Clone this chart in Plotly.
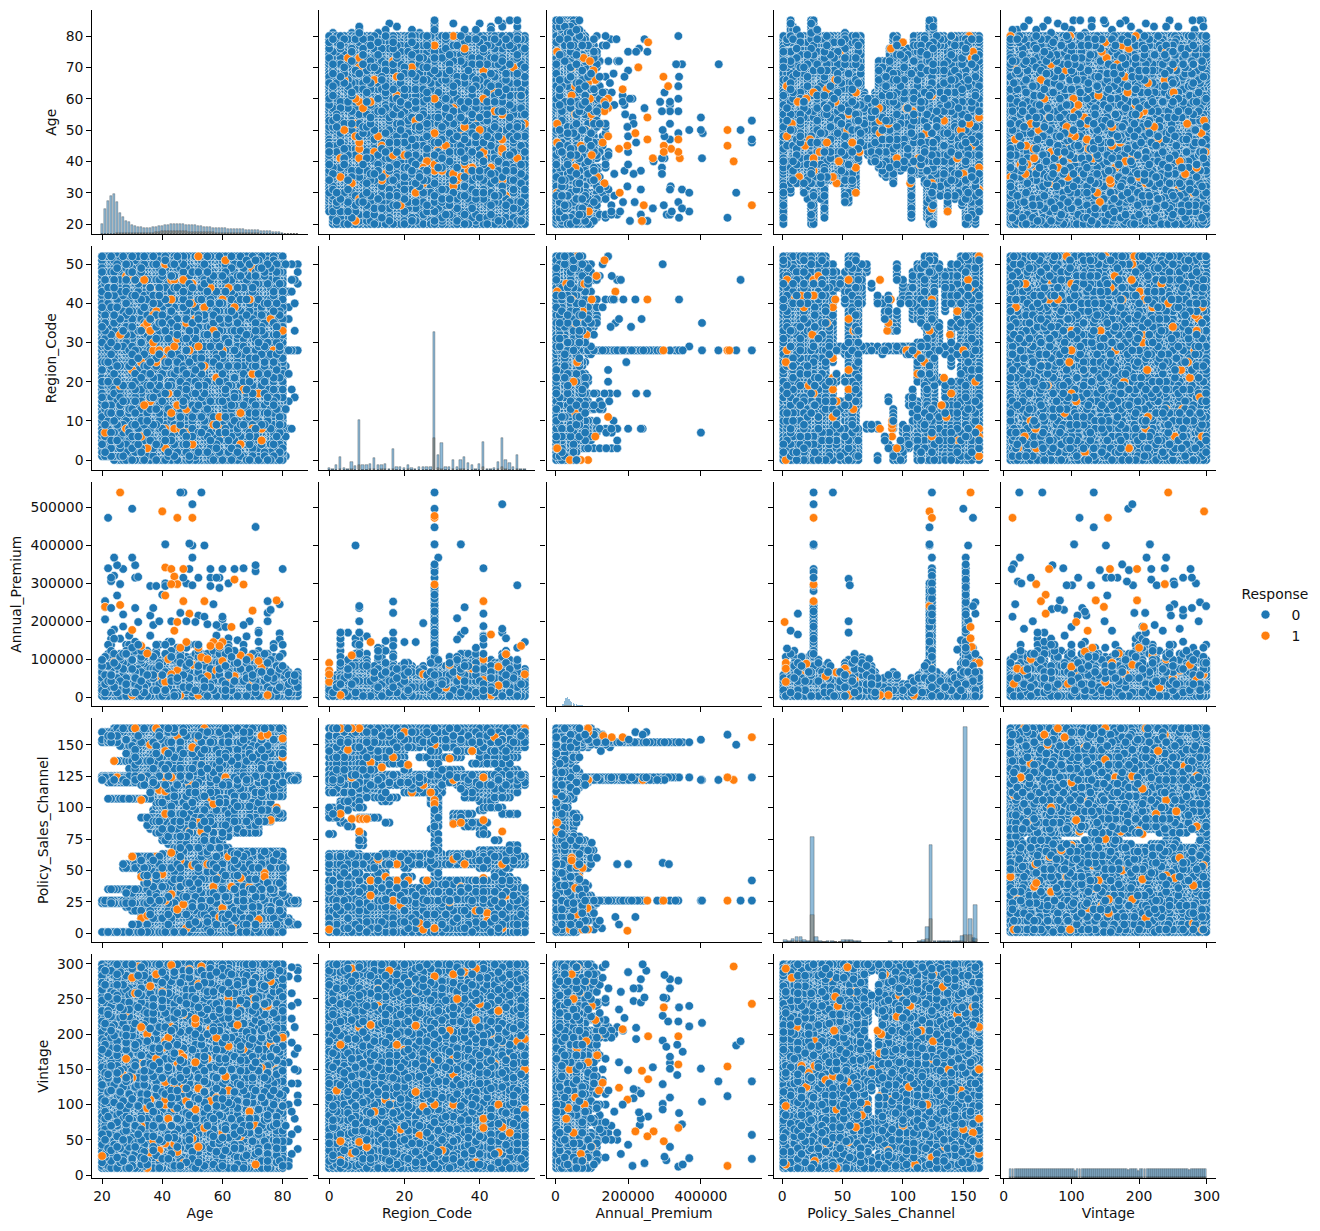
import plotly.graph_objects as go

VARS = ["Age", "Region_Code", "Annual_Premium", "Policy_Sales_Channel", "Vintage"]
RANGES = [[16.75, 88.25], [-2.6, 54.6], [-24247, 567042], [-7.1, 171.1], [-4.45, 313.45]]
X_TICKS = [[20, 40, 60, 80], [0, 20, 40], [0, 200000, 400000], [0, 50, 100, 150], [0, 100, 200, 300]]
Y_TICKS = [[20, 30, 40, 50, 60, 70, 80], [0, 10, 20, 30, 40, 50],
           [0, 100000, 200000, 300000, 400000, 500000], [0, 25, 50, 75, 100, 125, 150],
           [0, 50, 100, 150, 200, 250, 300]]
BLUE = "#1f77b4"
ORANGE = "#ff7f0e"

AGE_LEVELS = [20,21,22,23,24,25,26,27,28,29,30,31,32,33,34,35,36,37,38,39,40,41,42,43,44,45,46,47,48,49,50,
              51,52,53,54,55,56,57,58,59,60,61,62,63,64,65,66,67,68,69,70,71,72,73,74,75,76,77,78,79,80]
REGION_LEVELS = [0,1,2,3,4,5,6,7,8,9,10,11,12,13,14,15,16,17,18,19,20,21,22,23,24,25,26,27,28,29,30,31,32,33,
                 34,35,36,37,38,39,40,41,42,43,44,45,46,47,48,49,50,51,52]
VINTAGE_A = [10,15,20,25,30,35,40,45,50,55,60,65,70,75,80,85,90,95,100,105,110,115,120,125,130,135,140,145,150,
             155,160,165,170,175,180,185,190,195,200,205,210,215,220,225,230,235,240,245,250,255,260,265,270,
             275,280,285,290,295,299]
VINTAGE_B = [10,13,18,23,28,33,38,43,48,53,58,63,68,73,78,83,88,93,98,103,108,113,118,123,128,133,138,143,148,
             153,158,163,168,173,178,183,188,193,198,203,208,213,218,223,228,233,238,243,248,253,258,263,268,
             273,278,283,288,293,299]
PREMIUM_LEVELS = [2630,12000,18000,26000,34000,42000,50000,58000,66000,74000,82000,90000,98000,106000,114000,
                  122000,130000,138000,146000,154000,162000,170000,178000,186000,194000,202000,210000,218000,
                  226000,234000,242000,250000,260000,270000,280000,290000,300000,310000,320000,330000,340000]

# upper edge (thousands) of the premium cloud for each level
PREMIUM_TOP_BY_AGE = [125,145,170,205,180,195,175,190,150,165,140,155,150,135,160,145,175,150,190,155,170,145,165,
                      150,175,160,150,170,145,165,155,160,140,150,170,145,150,140,165,140,155,135,145,150,130,160,
                      135,150,130,145,130,125,150,130,125,140,125,130,130,120,150]
PREMIUM_TOP_BY_REGION = [65,55,60,175,60,100,110,130,170,100,125,90,110,130,110,150,60,135,75,85,125,90,95,60,75,85,
                         80,110,290,105,105,90,115,95,125,120,130,120,125,130,110,170,60,100,100,125,130,130,100,
                         125,110,50,80]
PREMIUM_TOP_BY_VINTAGE = [135,175,125,150,140,130,135,120,170,130,150,135,160,150,130,125,165,130,150,125,120,155,150,
                          130,165,170,125,140,135,125,150,170,130,130,155,125,175,165,200,190,170,140,150,130,185,130,
                          160,170,145,170,130,160,135,125,160,150,130,170,145]
CHANNEL_PREMIUM_TOP = [(1,60),(3,120),(7,125),(10,130),(13,110),(16,110),(19,105),(22,110),(24,115),(26,250),(30,100),
                       (33,90),(35,85),(38,90),(40,85),(43,75),(45,65),(48,70),(52,105),(55,110),(58,115),(60,115),
                       (63,105),(66,100),(70,95),(74,90),(77,70),(79,50),(84,50),(88,60),(92,70),(95,65),(100,40),
                       (104,40),(107,50),(109,50),(113,60),(116,70),(118,85),(120,90),(122,300),(124,340),(128,70),
                       (131,60),(135,50),(138,60),(140,70),(143,60),(145,60),(148,100),(150,150),(152,340),(154,220),
                       (156,170),(158,130),(160,135),(163,100)]

# channel, lowest age, highest age of the cloud along that channel
CHANNEL_AGE_BANDS = [(163,24,80),(160,20,80),(157,22,80),(154,20,80),(152,20,80),(149,26,80),(146,30,80),(143,28,80),
                     (140,30,80),(137,24,75),(134,30,80),(131,29,80),(128,33,80),(125,20,85),(124,20,85),(122,20,85),
                     (120,22,80),(118,33,80),(115,36,80),(112,36,80),(109,36,80),(107,22,70),(104,38,76),(101,38,76),
                     (98,37,78),(95,37,80),(92,33,80),(89,37,76),(86,35,72),(83,36,72),(80,38,72),(77,40,62),(74,40,60),
                     (71,42,60),(68,44,62),(65,46,80),(63,40,80),(61,30,80),(58,32,80),(55,27,80),(52,27,81),(49,33,80),
                     (46,33,80),(43,34,80),(40,34,80),(37,34,80),(35,22,80),(32,28,80),(29,29,82),(26,20,85),(24,20,85),
                     (21,28,80),(18,30,80),(15,33,80),(12,33,82),(9,34,83),(7,30,85),(4,40,80),(1,20,80)]
# channel and the stretches of region code it covers
CHANNEL_REGION_BANDS = [(163,[(0,52)]),(160,[(1,52)]),(157,[(0,52)]),(154,[(0,52)]),(152,[(0,52)]),
                        (148,[(0,24),(26,52)]),(145,[(0,20),(27,29),(34,50)]),(140,[(0,15),(18,20),(24,28),(30,35),(40,50)]),
                        (135,[(0,14),(16,20),(27,29),(38,48)]),(130,[(0,12),(20,21),(28,35),(45,50)]),
                        (126,[(0,52)]),(124,[(0,52)]),(122,[(0,52)]),(120,[(0,52)]),(118,[(3,30),(34,52)]),
                        (115,[(0,5),(8,12),(20,30),(35,50)]),(112,[(0,8),(9,15),(20,30),(36,50)]),
                        (108,[(5,10),(12,18),(27,29),(36,48)]),(105,[(3,8),(14,16),(27,29),(40,44)]),(103,[(3,8),(27,29)]),
                        (100,[(0,3),(7,9),(28,29),(41,46)]),(98,[(0,5),(28,29),(40,41)]),(95,[(0,3),(28,29),(33,38),(46,50)]),
                        (92,[(0,3),(8,13),(28,29),(33,35)]),(88,[(3,4),(15,16),(28,29),(33,42)]),(85,[(5,6),(28,29),(36,38)]),
                        (83,[(27,28),(40,41)]),(79,[(0,1),(8,9),(28,29),(40,42)]),(74,[(8,9),(28,29),(44,45)]),
                        (70,[(8,9),(28,29),(48,50)]),(66,[(28,29),(40,50)]),(63,[(0,8),(14,30),(32,50)]),(61,[(0,52)]),
                        (58,[(0,52)]),(55,[(0,52)]),(52,[(0,8),(10,15),(20,21),(27,29),(40,48)]),
                        (48,[(0,4),(7,8),(13,15),(28,29),(44,46)]),(45,[(3,12),(20,22),(28,29),(44,48)]),
                        (42,[(0,1),(8,20),(25,50)]),(39,[(0,8),(12,20),(27,36),(43,50)]),(36,[(0,30),(33,52)]),
                        (33,[(0,52)]),(30,[(0,52)]),(27,[(0,52)]),(26,[(0,52)]),
                        (24,[(0,52)]),(21,[(0,52)]),(18,[(0,52)]),(15,[(0,52)]),(12,[(0,52)]),(9,[(0,52)]),(7,[(0,52)]),
                        (4,[(1,52)]),(1,[(0,52)])]
# channel and the stretches of vintage it covers
CHANNEL_VINTAGE_BANDS = [(c, [(10, 299)]) for c in
                         [1,3,7,10,13,16,19,22,24,26,30,33,36,39,42,45,48,51,53,56,59,62,65,
                          85,88,91,94,97,100,103,106,109,112,116,119,122,124,128,131,134,137,140,143,146,149,152,154,156,158,160,163]] + \
                        [(68,[(10,85),(100,299)]),(71,[(10,40),(55,110),(130,190),(215,260),(285,299)]),
                         (74,[(10,25),(40,80),(120,170),(240,255),(290,299)]),(77,[(10,20),(50,60),(140,150),(290,299)]),
                         (80,[(10,30),(40,110),(130,200),(230,270),(290,299)]),(83,[(10,299)])]

# sparse points outside the solid clouds
AGE_REGION_EXTRA = [(81,1),(81,6),(81,8),(82,8),(83,8),(81,13),(82,15),(81,13),(84,16),(83,18),(81,28),(82,28),(83,28),
                    (84,28),(85,28),(84,33),(81,36),(82,36),(82,39),(84,40),(83,43),(82,43),(83,46),(84,46),(85,45),
                    (85,48),(85,50),(83,50),(81,50),(82,22),(81,24)]
AGE_VINTAGE_EXTRA = [(85,294),(85,290),(85,279),(83,295),(82,282),(83,258),(85,245),(83,240),(83,222),(84,210),(85,180),
                     (84,172),(83,188),(85,148),(84,150),(83,130),(85,130),(85,113),(85,103),(83,90),(84,80),(85,65),
                     (83,58),(82,48),(85,37),(83,30),(82,20),(82,13),(81,200),(81,120),(82,160),(82,100),(81,70)]
AGE_PREMIUM_BLUE = [(22,473000),(30,497000),(46,540000),(47,540000),(53,540000),(50,509000),(71,449000),(41,403000),
                    (49,405000),(50,400000),(54,400000),(24,368000),(30,368000),(50,368000),(25,348000),(31,348000),
                    (22,340000),(27,338000),(49,338000),(56,338000),(60,338000),(64,338000),(67,340000),(71,348000),
                    (71,332000),(80,338000),(23,315000),(24,320000),(23,306000),(31,315000),(32,317000),(26,298000),
                    (36,293000),(38,293000),(41,300000),(41,293000),(47,315000),(48,300000),(50,295000),(52,315000),
                    (56,315000),(56,293000),(58,315000),(59,315000),(59,288000),(62,300000),(25,268000),(40,270000),
                    (21,253000),(75,253000),(79,245000),(76,230000),(31,235000),(37,235000),(57,245000),(27,218000),
                    (36,215000),(52,215000),(54,212000),(60,212000),(46,222000),(75,222000),(23,235000),(21,238000),
                    (21,205000),(60,205000),(43,200000),(32,198000),(58,190000),(67,190000),(69,200000),(59,185000),
                    (61,185000),(72,175000),(79,168000),(79,152000),(68,160000),(65,150000),(62,155000),(51,198000),
                    (55,192000),(48,200000),(37,190000),(39,200000),(75,200000),(77,140000),(72,170000)]
AGE_PREMIUM_ORANGE = [(26,540000),(40,490000),(45,473000),(50,473000),(41,342000),(43,338000),(47,338000),(44,318000),
                      (45,298000),(43,298000),(64,310000),(67,297000),(41,268000),(47,253000),(54,253000),(78,255000),
                      (26,243000),(21,238000),(70,228000),(49,220000),(45,198000),(63,185000),(30,177000),(44,175000),
                      (48,145000),(57,145000),(60,145000),(56,135000),(59,135000),(46,130000),(42,100000),(24,92000),
                      (63,97000),(73,78000),(36,55000),(38,55000),(61,45000),(41,40000),(75,5000),(66,110000),(53,105000),
                      (33,135000),(35,115000),(52,130000),(55,100000),(60,95000),(65,90000),(69,105000),(72,95000),
                      (45,70000),(50,85000),(58,70000),(43,60000),(55,55000),(64,55000),(70,45000),(30,5000),(46,5000),
                      (52,5000)]
AGE_REGION_ORANGE = [(33,33),(41,41),(43,46),(52,52),(41,50),(38,43),(40,26),(26,32),(32,33),(34,34),(35,35),(33,6),(41,3),
                     (49,28),(37,28),(39,28),(42,28),(60,28),(77,28),(80,33),(61,18),(42,17),(53,23),(36,15),(45,14),
                     (59,8),(44,8),(41,8),(46,8),(60,7),(70,8),(70,22),(73,5),(21,7),(60,41),(39,41),(38,41),(43,41),
                     (69,41),(55,46),(44,46),(47,46),(50,40),(54,39),(38,38),(51,36),(40,36),(28,47),(31,46),(50,45),
                     (29,47),(34,46),(36,44),(37,37),(39,36),(36,33),(37,30),(44,29),(52,29),(33,25),(54,24),(36,22),
                     (42,20),(58,21),(67,18),(72,17),(34,14),(48,13),(59,11),(57,9),(52,7),(48,7),(28,8),(35,3),(50,4),
                     (66,4),(73,8),(76,36),(64,39),(62,44),(70,49),(61,51),(56,44),(45,31),(57,33),(48,35),(43,12),(66,12),
                     (26,19),(30,23),(38,25)]
AGE_VINTAGE_ORANGE = [(28,165),(33,158),(38,165),(46,172),(47,167),(46,160),(30,280),(31,258),(36,268),(40,260),(52,271),
                      (71,280),(74,240),(75,240),(67,179),(62,183),(58,195),(56,207),(65,213),(62,251),(61,140),(77,175),
                      (73,152),(41,132),(52,123),(54,119),(36,107),(41,100),(41,107),(48,105),(49,98),(51,93),(56,105),
                      (60,103),(44,95),(42,80),(43,70),(54,67),(52,40),(37,49),(44,44),(39,35),(36,32),(39,25),(47,17),
                      (35,10),(71,15),(80,10),(27,142),(28,232),(40,180),(41,190),(51,215),(34,157),(45,160),
                      (32,296),(38,285),(43,298),(49,292),(53,296),(33,210),(35,200),(42,195),(43,210),(47,228),(51,222),
                      (55,200),(66,238),(70,250),(76,275),(80,195),(76,185),(78,150),(75,145),(62,120),(58,110),(69,90),
                      (71,70),(66,55),(60,60),(50,52),(45,33),(41,45),(33,70),(38,80),(44,125),(47,123),(51,160),(55,165),
                      (71,168),(30,138),(35,95),(20,27),(80,98)]
AGE_CHANNEL_ORANGE = [(38,163),(31,163),(54,163),(73,157),(75,158),(80,155),(80,140),(24,137),(53,134),(25,124),(41,124),
                      (46,124),(49,119),(39,114),(41,113),(33,106),(54,109),(56,108),(78,100),(52,88),(49,81),(53,81),
                      (57,80),(76,90),(30,61),(38,61),(55,55),(50,54),(33,45),(35,42),(40,47),(57,37),(69,37),(74,48),
                      (74,45),(66,44),(63,37),(59,44),(46,37),(37,26),(40,26),(41,26),(62,26),(33,12),(45,19),(59,13),
                      (48,4),(64,4),(35,14),(36,150),(45,157),(52,155),(41,145),(50,148),(33,124),(43,124),(61,124),
                      (41,95),(57,103),(43,64),(46,58),(62,61),(43,31),(47,23),(60,20),(52,8),(72,11)]
REGION_PREMIUM_BLUE = [(28,540000),(28,497000),(46,509000),(7,400000),(28,448000),(28,403000),(35,403000),(29,368000),
                       (41,340000),(28,350000),(28,340000),(28,330000),(28,315000),(50,295000),(8,240000),(8,235000),
                       (8,200000),(17,222000),(17,252000),(25,195000),(41,220000),(41,187000),(36,237000),(34,208000),
                       (46,180000),(46,170000),(36,175000),(35,165000),(34,152000),(41,160000),(47,155000),(52,145000),
                       (20,145000),(23,145000),(17,170000),(17,150000),(17,135000),(14,128000),(15,148000),(10,160000),
                       (3,170000),(3,155000),(3,140000),(5,170000),(7,155000),(8,170000),(8,150000),(7,140000),(50,130000)]
REGION_PREMIUM_ORANGE = [(28,473000),(28,478000),(28,297000),(41,253000),(0,90000),(0,40000),(11,145000),(6,110000),
                         (3,5000),(43,165000),(47,113000),(51,135000),(32,85000),(41,100000),(45,30000),(41,45000),
                         (36,60000),(43,5000),(25,60000),(52,60000),(38,75000),(0,70000),(0,60000),(45,80000),(35,55000),
                         (31,25000),(12,55000),(20,50000)]
REGION_CHANNEL_ORANGE = [(3,95),(8,91),(9,91),(10,91),(6,91),(8,81),(11,136),(14,132),(17,140),(21,134),(32,139),(22,112),
                         (27,112),(28,106),(28,103),(41,90),(46,81),(33,87),(35,88),(13,59),(15,55),(18,55),(23,55),(36,55),
                         (46,55),(33,59),(18,42),(11,42),(15,45),(21,42),(26,42),(35,37),(39,42),(41,44),(17,26),(42,26),
                         (46,26),(42,16),(42,10),(24,8),(25,3),(28,4),(46,4),(0,3),(8,163),(1,163),(52,163),(41,124),(6,124),
                         (38,145),(5,146),(44,156),(46,154),(3,163),(6,163),(11,30),(19,22),(32,25),(39,18),(47,30),(20,160),
                         (28,150),(33,122),(25,118),(37,63)]
REGION_VINTAGE_ORANGE = [(6,293),(3,185),(11,213),(28,165),(33,165),(40,243),(41,208),(43,201),(46,189),(47,164),(15,107),
                         (17,100),(52,93),(41,80),(41,67),(46,68),(8,47),(3,48),(6,31),(3,21),(45,32),(39,293),(33,143),
                         (23,118),(28,100),(32,205),(36,288),(37,283),(6,253),(52,193),(45,233),(23,212),(30,205),
                         (13,264),(16,290),(21,275),(23,262),(25,272),(28,282),(33,285),(34,250),(39,220),(41,175),(44,158),
                         (50,190),(52,150),(20,178),(18,185),(13,240),(8,210),(2,120),(12,90),(19,65),(24,56),(30,35),(39,18),
                         (48,60),(45,100),(25,97),(33,100),(10,40)]
CHANNEL_PREMIUM_BLUE = [(26,540000),(26,509000),(26,403000),(26,400000),(26,338000),(26,330000),(26,315000),(26,293000),
                        (26,280000),(42,540000),(124,540000),(122,448000),(122,403000),(122,400000),(124,368000),
                        (152,368000),(152,350000),(154,400000),(150,497000),(158,473000),(55,312000),(56,295000),(55,200000),
                        (55,170000),(13,220000),(7,175000),(13,165000),(4,128000),(160,250000),(158,240000),(160,220000),
                        (148,150000),(145,125000),(66,105000),(72,100000)]
CHANNEL_PREMIUM_ORANGE = [(55,5000),(81,5000),(88,5000),(109,5000),(2,198000),(20,88000),(45,65000),(60,45000),(3,40000),
                          (122,490000),(124,473000),(156,540000),(26,473000),(26,297000),(26,253000),(160,90000),
                          (156,155000),(157,132000),(156,185000),(163,90000),(122,240000),(122,90000),(3,90000),(3,75000),
                          (52,75000),(54,60000),(58,45000),(36,55000),(15,60000)]
VINTAGE_PREMIUM_BLUE = [(23,540000),(57,540000),(133,540000),(184,497000),(190,509000),(112,473000),(133,448000),
                        (104,403000),(151,400000),(216,403000),(24,368000),(15,350000),(12,338000),(72,348000),(88,340000),
                        (211,368000),(240,368000),(40,315000),(21,305000),(26,300000),(110,315000),(93,295000),(101,295000),
                        (129,295000),(142,335000),(151,315000),(159,315000),(168,315000),(175,350000),(185,335000),
                        (182,305000),(191,295000),(218,338000),(238,340000),(218,310000),(226,295000),(251,305000),
                        (252,297000),(265,315000),(276,338000),(278,315000),(284,300000),(153,268000),(83,255000),
                        (80,235000),(71,232000),(89,230000),(116,235000),(120,225000),(109,215000),(122,215000),
                        (149,200000),(17,245000),(13,212000),(43,200000),(193,222000),(209,222000),(223,190000),
                        (252,245000),(245,235000),(247,215000),(265,230000),(265,215000),(278,235000),(290,250000),
                        (299,240000),(288,200000),(30,180000),(60,170000),(100,185000),(160,175000),(235,175000),(260,180000)]
VINTAGE_PREMIUM_ORANGE = [(243,540000),(296,490000),(13,473000),(154,473000),(157,338000),(67,338000),(197,338000),
                          (238,298000),(48,298000),(62,270000),(55,253000),(136,255000),(148,238000),(197,255000),
                          (62,220000),(107,198000),(207,185000),(131,130000),(124,175000),(20,75000),(40,100000),
                          (60,50000),(100,80000),(150,40000),(180,60000),(220,110000),(260,70000),(285,45000),(170,115000),
                          (120,120000),(200,130000),(240,100000),(95,35000),(230,25000),(15,35000),(30,70000),(80,30000),
                          (110,55000),(160,90000),(190,85000),(250,50000),(275,85000),(295,60000)]
CHANNEL_VINTAGE_ORANGE = [(3,293),(8,280),(54,295),(44,253),(46,240),(133,267),(106,240),(145,228),(158,238),(27,190),
                          (27,155),(36,135),(42,140),(54,132),(81,173),(90,107),(81,112),(124,165),(45,93),(66,85),(61,68),
                          (3,98),(3,15),(27,20),(37,45),(40,48),(55,47),(88,35),(45,10),(110,15),(82,200),(79,205),(43,205),
                          (124,25),(150,65),(163,150),(163,80),(16,155),(22,145),(38,280),(60,260),(95,225),(115,205),(125,190),
                          (138,150),(148,120),(156,90),(158,60),(135,40),(105,125),(100,70),(75,150),(33,70),(12,210),(20,125),
                          (125,285),(163,30),(163,210),(50,175),(70,100),(120,100),(97,255),(85,285)]

# histogram bar heights on the diagonal, in thirds of a pixel
AGE_HIST_BINS = AGE_LEVELS + [81, 82, 83, 84, 85]
AGE_HIST_0 = [31,76,98,113,121,95,63,52,40,35,28,24,20,20,19,19,19,20,21,24,25,28,28,29,29,29,29,29,27,27,26,26,25,23,21,21,
              20,19,18,18,17,17,16,15,15,15,14,14,13,13,12,12,11,10,10,9,8,7,6,5,4,1,1,1,1,1]
AGE_HIST_1 = [1,1,1,1,1,2,2,2,2,2,2,2,3,3,3,3,3,4,5,6,8,8,9,9,9,9,9,8,8,7,7,7,6,6,5,5,5,5,4,4,4,4,3,3,3,3,3,2,2,2,2,2,2,1,1,1,
              1,1,1,1,1,0,0,0,0,0]
REGION_HIST_0 = [6,4,15,40,6,4,25,12,150,15,14,18,36,14,16,18,4,62,8,8,6,14,6,4,9,10,9,10,414,45,80,8,9,30,9,30,40,22,14,4,18,
                 85,4,4,6,24,95,30,20,8,45,3,3]
REGION_HIST_1 = [1,1,1,3,1,1,2,1,15,1,1,2,3,1,2,2,1,3,1,1,1,2,1,1,1,1,1,1,97,5,4,1,1,3,1,2,3,1,1,1,1,8,1,1,1,2,10,2,1,1,2,1,1]
PREMIUM_HIST_BINS = [2630,20000,24000,28000,32000,36000,40000,44000,48000,52000,56000,60000,64000,68000,72000,76000,80000]
PREMIUM_HIST_0 = [270,6,16,24,27,22,16,12,9,7,5,4,3,2,2,1,1]
PREMIUM_HIST_1 = [30,1,2,3,4,4,3,2,2,1,1,1,1,0,0,0,0]
PREMIUM_HIST_WIDTHS = [700,3600,3600,3600,3600,3600,3600,3600,3600,3600,3600,3600,3600,3600,3600,3600,3600]
CHANNEL_HIST_BINS = [2.6,5.9,9.1,12.3,15.6,18.8,22.0,25.3,28.5,31.8,35,38,41.5,44.7,48,51,54.4,57.6,60.9,64,90,114,117,120.2,
                     123.4,126.7,130,133,136,139,143,146,149.4,152.0,156.0,159,160.2]
CHANNEL_HIST_0 = [5,4,10,14,14,6,3,314,14,3,1,3,2,1,1,5,7,6,3,2,3,4,5,44,292,3,3,3,2,2,3,3,18,644,70,12,112]
CHANNEL_HIST_1 = [1,1,2,3,3,1,1,80,2,1,0,1,1,0,0,1,2,2,1,0,0,1,1,8,70,1,1,1,0,0,1,1,4,22,20,3,8]
VINTAGE_HIST_BINS = [11,14,17,20,23,26,29,32,35,38,41,44,47,50,53,56,59,62,65,68,71,74,77,80,83,86,89,92,95,98,101,104,107,
                     110,113,116,119,122,125,128,131,134,137,140,143,146,149,152,155,158,161,164,167,170,173,176,179,182,
                     185,188,191,194,197,200,203,206,209,212,215,218,221,224,227,230,233,236,239,242,245,248,251,254,257,
                     260,263,266,269,272,275,278,281,284,287,290,293,296,298]
VINTAGE_HIST_0 = [26,26,26,26,26,26,26,26,26,26,26,26,26,26,26,26,26,26,26,26,26,26,26,26,26,26,26,26,26,26,26,26,21,26,26,
                  26,26,26,26,26,26,26,26,26,26,26,26,26,26,26,26,26,26,26,26,26,26,26,23,26,26,26,26,21,26,26,26,26,26,26,
                  26,26,26,26,26,26,26,26,26,26,26,26,26,26,26,26,26,26,23,26,26,26,26,26,26,26,26]
VINTAGE_HIST_1 = [3,3,3,3,3,3,3,3,3,3,3,3,3,3,3,3,3,3,3,3,3,3,3,3,3,3,3,3,3,3,3,3,3,3,3,3,3,3,3,3,3,3,3,3,3,3,3,3,3,3,3,3,3,3,
                  3,3,3,3,3,3,3,3,3,3,3,3,3,3,3,3,3,3,3,3,3,3,3,3,3,3,3,3,3,3,3,3,3,3,3,3,3,3,3,3,3,3,3]

DIAG = [(AGE_HIST_BINS, AGE_HIST_0, AGE_HIST_1, 0.68, 1),
        (REGION_LEVELS, REGION_HIST_0, REGION_HIST_1, 0.62, 1),
        (PREMIUM_HIST_BINS, PREMIUM_HIST_0, PREMIUM_HIST_1, PREMIUM_HIST_WIDTHS, 0),
        (CHANNEL_HIST_BINS, CHANNEL_HIST_0, CHANNEL_HIST_1, 3.1, 1),
        (VINTAGE_HIST_BINS, VINTAGE_HIST_0, VINTAGE_HIST_1, 2.9, 1)]

LEFT = [92.3, 319.4, 546.5, 773.6, 1000.7]
TOP = [10.2, 246.2, 482.2, 718.2, 954.2]
PW, PH, W, H = 215.2, 224.0, 1320, 1231


def keep(level, i, j):
    mix = (i * i * 7 + j * j * 11 + i * j * 3 + i * 5 + j) % 29
    if level > 120000:
        return mix < 7
    if level > 90000:
        return mix < 13
    if level > 66000:
        return mix < 22
    return True


def pts_age_region():
    return [(a, r, i, j) for i, a in enumerate(AGE_LEVELS) for j, r in enumerate(REGION_LEVELS)
            if not (r == 0 and a < 24)]


def pts_age_vintage():
    return [(a, v, i, j) for i, a in enumerate(AGE_LEVELS)
            for j, v in enumerate(VINTAGE_A if i % 2 else VINTAGE_B)]


def pts_region_vintage():
    return [(r, v, i, j) for i, r in enumerate(REGION_LEVELS)
            for j, v in enumerate(VINTAGE_B if i % 2 else VINTAGE_A)]


def pts_age_channel():
    out = []
    for j, (c, lo, hi) in enumerate(CHANNEL_AGE_BANDS):
        for i, a in enumerate(AGE_LEVELS + [81, 82, 83, 84, 85]):
            if lo <= a <= hi:
                out.append((a, c, i, j))
    return out


def pts_region_channel():
    out = []
    for j, (c, segs) in enumerate(CHANNEL_REGION_BANDS):
        for i, r in enumerate(REGION_LEVELS):
            if any(lo <= r <= hi for lo, hi in segs):
                out.append((r, c, i, j))
    return out


def pts_channel_vintage():
    out = []
    for i, (c, segs) in enumerate(CHANNEL_VINTAGE_BANDS):
        for j, v in enumerate(VINTAGE_A if i % 2 else VINTAGE_B):
            if any(lo <= v <= hi for lo, hi in segs):
                out.append((c, v, i, j))
    return out


def pts_premium(levels, tops, solid=()):
    out = []
    for i, (x, top) in enumerate(zip(levels, tops)):
        for j, p in enumerate(PREMIUM_LEVELS):
            if p <= top * 1000 and (x in solid or keep(p, i, j)):
                out.append((x, p, i, j))
    return out


def ex(points):
    return [(x, y, 3 * k, k) for k, (x, y) in enumerate(points)]


PAIRS = {
    (0, 1): (pts_age_region() + ex(AGE_REGION_EXTRA), AGE_REGION_ORANGE),
    (0, 2): (pts_premium(AGE_LEVELS, PREMIUM_TOP_BY_AGE) +
             pts_premium([81, 82, 83, 84, 85], [78, 70, 65, 65, 68]) + ex(AGE_PREMIUM_BLUE), AGE_PREMIUM_ORANGE),
    (0, 3): (pts_age_channel(), AGE_CHANNEL_ORANGE),
    (0, 4): (pts_age_vintage() + ex(AGE_VINTAGE_EXTRA), AGE_VINTAGE_ORANGE),
    (1, 2): (pts_premium(REGION_LEVELS, PREMIUM_TOP_BY_REGION, solid=(28,)) + ex(REGION_PREMIUM_BLUE), REGION_PREMIUM_ORANGE),
    (1, 3): (pts_region_channel(), REGION_CHANNEL_ORANGE),
    (1, 4): (pts_region_vintage(), REGION_VINTAGE_ORANGE),
    (3, 2): (pts_premium([c for c, _ in CHANNEL_PREMIUM_TOP], [t for _, t in CHANNEL_PREMIUM_TOP], solid=(26, 122, 124, 152)) +
             ex(CHANNEL_PREMIUM_BLUE), CHANNEL_PREMIUM_ORANGE),
    (4, 2): (pts_premium(VINTAGE_A, PREMIUM_TOP_BY_VINTAGE) + ex(VINTAGE_PREMIUM_BLUE), VINTAGE_PREMIUM_ORANGE),
    (3, 4): (pts_channel_vintage(), CHANNEL_VINTAGE_ORANGE),
}

fig = go.Figure()
layout = {}
for r in range(5):
    for c in range(5):
        n = r * 5 + c + 1
        xdom = [LEFT[c] / W, (LEFT[c] + PW) / W]
        ydom = [1 - (TOP[r] + PH) / H, 1 - TOP[r] / H]
        common = dict(showgrid=False, zeroline=False, showline=True, linecolor="black", linewidth=1.1, automargin=False,
                      ticks="outside", ticklen=5, tickwidth=1.1, tickcolor="black", mirror=False,
                      tickfont=dict(family="DejaVu Sans", size=13.9, color="#111111"))
        layout[f"xaxis{n}"] = dict(domain=xdom, anchor=f"y{n}", range=RANGES[c], tickmode="array",
                                   tickvals=X_TICKS[c], ticktext=[str(v) for v in X_TICKS[c]],
                                   showticklabels=(r == 4), **common)
        layout[f"yaxis{n}"] = dict(domain=ydom, anchor=f"x{n}", range=RANGES[r], tickmode="array",
                                   tickvals=Y_TICKS[r], ticktext=[str(v) for v in Y_TICKS[r]],
                                   showticklabels=(c == 0), **common)
        if r == 4:
            layout[f"xaxis{n}"]["title"] = dict(text=VARS[c], standoff=5,
                                                font=dict(family="DejaVu Sans", size=13.9, color="#111111"))
        if c == 0:
            layout[f"yaxis{n}"]["title"] = dict(text=VARS[r], standoff=5,
                                                font=dict(family="DejaVu Sans", size=13.9, color="#111111"))
        if r == c:
            k = 26 + r
            layout[f"yaxis{k}"] = dict(domain=ydom, anchor=f"x{n}", overlaying=f"y{n}", range=[0, 672], visible=False)
            fig.add_trace(go.Scatter(x=[None], y=[None], xaxis=f"x{n}", yaxis=f"y{n}", showlegend=False, hoverinfo="skip"))
            bins, h0, h1, width, edge = DIAG[r]
            edge_line = dict(color="rgba(0,0,0,0.25)", width=edge)
            fig.add_trace(go.Bar(x=bins, y=h1, width=width, xaxis=f"x{n}", yaxis=f"y{k}", showlegend=False,
                                 marker=dict(color="rgba(255,127,14,0.5)", line=edge_line), hoverinfo="skip"))
            fig.add_trace(go.Bar(x=bins, y=h0, width=width, xaxis=f"x{n}", yaxis=f"y{k}", showlegend=False,
                                 marker=dict(color="rgba(31,119,180,0.5)", line=edge_line), hoverinfo="skip"))
            continue
        key = (c, r) if (c, r) in PAIRS else (r, c)
        swap = (c, r) not in PAIRS
        mass, orange = PAIRS[key]
        ordered = sorted(mass, key=lambda p: (p[2] * p[2] * 7 + p[3] * p[3] * 11 + p[2] * p[3] * 3 + n * p[2] * 5 + n * p[3]) % 101)
        cut = int(len(ordered) * 0.86)
        seq = [(p[0], p[1], BLUE) for p in ordered[:cut]] + [(p[0], p[1], ORANGE) for p in orange] + \
              [(p[0], p[1], BLUE) for p in ordered[cut:]]
        xs = [(s[1] if swap else s[0]) for s in seq]
        ys = [(s[0] if swap else s[1]) for s in seq]
        fig.add_trace(go.Scatter(x=xs, y=ys, xaxis=f"x{n}", yaxis=f"y{n}", mode="markers", showlegend=False,
                                 hoverinfo="skip", cliponaxis=False,
                                 marker=dict(size=8.6, color=[s[2] for s in seq], line=dict(color="white", width=0.6))))

for name, col in (("0", BLUE), ("1", ORANGE)):
    fig.add_trace(go.Scatter(x=[None], y=[None], xaxis="x1", yaxis="y1", mode="markers", name=name, showlegend=True,
                             marker=dict(size=9, color=col, line=dict(color="white", width=0.6))))

fig.update_layout(width=W, height=H, margin=dict(l=0, r=0, t=0, b=0, autoexpand=False), paper_bgcolor="white", plot_bgcolor="white",
                  barmode="overlay", bargap=0,
                  legend=dict(title=dict(text="Response", font=dict(family="DejaVu Sans", size=13.9, color="#111111")),
                              x=1239.5 / W, y=1 - 581 / H, xanchor="left", yanchor="top", itemwidth=42,
                              font=dict(family="DejaVu Sans", size=13.9, color="#111111"), bgcolor="rgba(0,0,0,0)",
                              itemclick=False, itemdoubleclick=False),
                  **layout)
fig.write_html("out.html", config={"displayModeBar": False},
               post_script="document.body.style.margin='0';")
